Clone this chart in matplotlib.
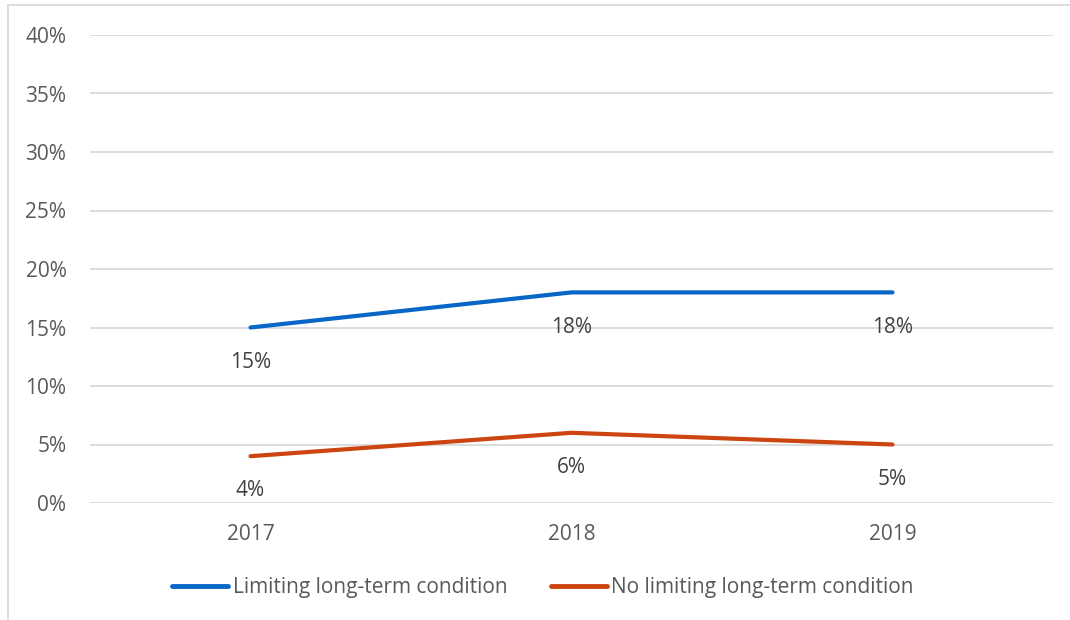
import matplotlib.pyplot as plt
from matplotlib.lines import Line2D

plt.rcParams['font.family'] = ['Open Sans', 'DejaVu Sans']

years = ["2017", "2018", "2019"]
limiting = [15, 18, 18]
no_limiting = [4, 6, 5]
series_names = ["Limiting long-term condition", "No limiting long-term condition"]
colors = ["#0866C6", "#CC4410"]
text_col = "#595959"
fs = 15

fig = plt.figure(figsize=(10.7, 6.2), dpi=100)
ax = fig.add_axes([90 / 1070, 1 - 503 / 620, (1053 - 90) / 1070, (503 - 35) / 620])

x = range(len(years))
for vals, name, c in zip([limiting, no_limiting], series_names, colors):
    ax.plot(x, vals, color=c, lw=3, label=name, solid_capstyle='round')
    for xi, v in zip(x, vals):
        ax.annotate(f"{v}%", (xi, v), xytext=(0, -25), textcoords='offset points',
                    ha='center', va='center', fontsize=fs, color="#404040")

ax.set_xlim(-0.5, 2.5)
ax.set_ylim(0, 40)
ax.set_yticks(range(0, 41, 5))
ax.set_yticklabels([f"{t}%" for t in range(0, 41, 5)])
ax.set_xticks(list(x))
ax.set_xticklabels(years)
ax.tick_params(length=0, labelsize=fs, colors=text_col)
ax.tick_params(axis='y', pad=17)
ax.tick_params(axis='x', pad=15)
ax.grid(axis='y', color="#D9D9D9", lw=1.3)
ax.set_axisbelow(True)
for s in ax.spines.values():
    s.set_visible(False)

leg = fig.legend(loc='center', bbox_to_anchor=(543 / 1070, 1 - 588 / 620), ncol=2,
                 frameon=False, fontsize=fs, handlelength=2.7, handletextpad=0.2,
                 columnspacing=2.1)
for t in leg.get_texts():
    t.set_color(text_col)
for h in leg.legend_handles:
    h.set_linewidth(3.5)

# chart area border (left and top only visible)
fig.add_artist(Line2D([8 / 1070, 8 / 1070], [0, 1 - 5 / 620], color="#D9D9D9", lw=1.3))
fig.add_artist(Line2D([8 / 1070, 1], [1 - 5 / 620, 1 - 5 / 620], color="#D9D9D9", lw=1.3))

fig.savefig("out.png", dpi=100)
